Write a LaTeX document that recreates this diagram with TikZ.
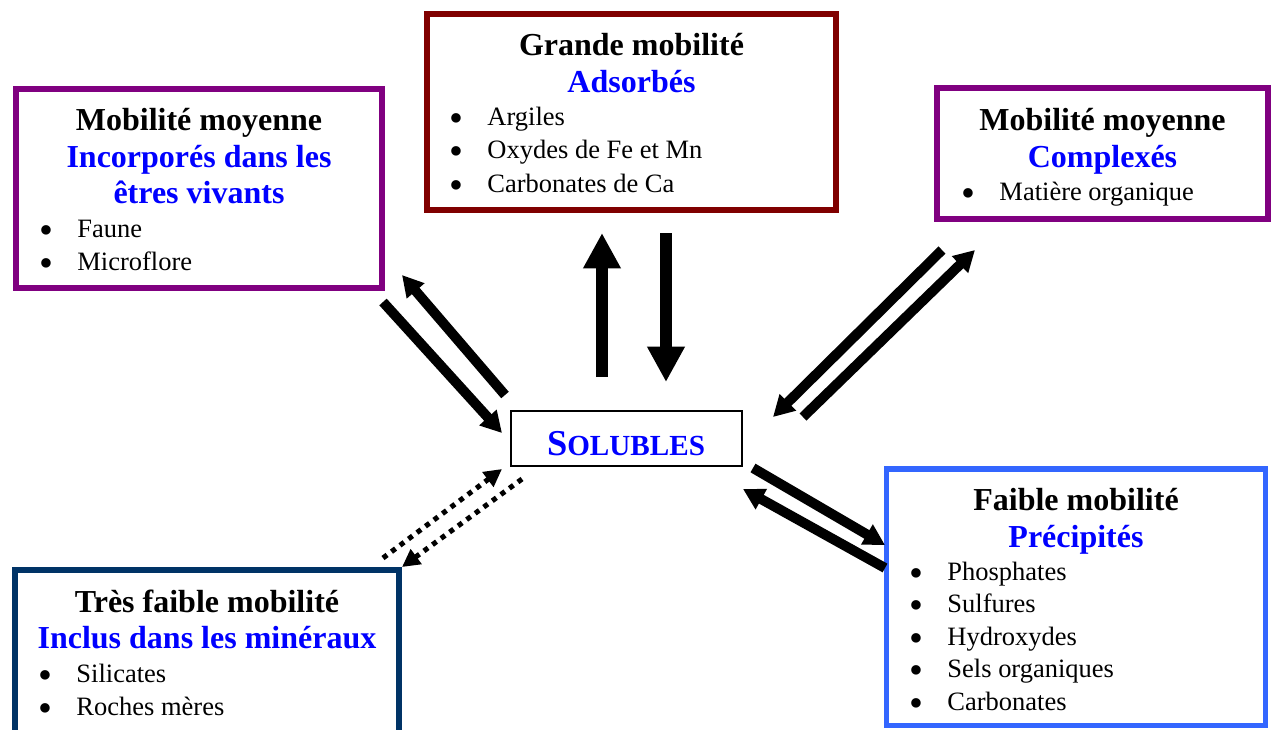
\documentclass[tikz,border=0pt]{standalone}
\usepackage{fontspec}
\setmainfont{Liberation Serif}
\usetikzlibrary{arrows.meta}
\definecolor{bordeaux}{HTML}{800000}
\definecolor{pourpre}{HTML}{800080}
\definecolor{marine}{HTML}{003366}
\definecolor{azur}{HTML}{3366FF}
\definecolor{bleutexte}{HTML}{0000FF}
\newcommand{\puce}{\makebox[17pt][l]{\raisebox{-3pt}[0pt][0pt]{\fontsize{18}{18}\selectfont\textbullet}}}
\begin{document}
\begin{tikzpicture}[x=0.453pt,y=-0.453pt,
  boite/.style={draw=#1,line width=2.5pt,inner sep=0pt},
  titre/.style={font=\bfseries\fontsize{14.5}{16}\selectfont,anchor=base,inner sep=0pt},
  classe/.style={titre,text=bleutexte},
  liste/.style={font=\fontsize{12}{14}\selectfont,anchor=base west,inner sep=0pt},
  fleche/.style={line width=4.5pt,-{Triangle[length=9.5pt,width=10pt]}},
  grosse/.style={line width=5.7pt,-{Triangle[length=16pt,width=16pt]}},
  pointille/.style={line width=2.3pt,dash pattern=on 2.3pt off 2.5pt,-{Triangle[length=8pt,width=8pt]}}]
\useasboundingbox (0,0) rectangle (1271,729);
\clip (0,0) rectangle (1271,729);
% les boites
\node[boite=pourpre,minimum width=165.8pt,minimum height=90.1pt] (vivant) at (199,188.5) {};
\node[boite=bordeaux,minimum width=185.3pt,minimum height=88.8pt] (adsorb) at (631.5,112) {};
\node[boite=pourpre,minimum width=149.9pt,minimum height=59.3pt] (complexe) at (1102.5,153.5) {};
\node[boite=black,line width=0.9pt,minimum width=104.6pt,minimum height=24.9pt] (soluble) at (626.5,438.5) {};
\node[boite=azur,minimum width=171.7pt,minimum height=116.2pt] (precip) at (1076,597.25) {};
\node[boite=marine,minimum width=174pt,minimum height=86pt] (mineral) at (207,665) {};
% incorpores
\node[titre] (vivant-t) at (199,130) {Mobilité moyenne};
\node[classe] (vivant-c1) at (199,167) {Incorporés dans les};
\node[classe] (vivant-c2) at (199,203) {êtres vivants};
\node[liste] (vivant-1) at (39.4,237) {\puce Faune};
\node[liste] (vivant-2) at (39.4,270) {\puce Microflore};
% adsorbes
\node[titre] (adsorb-t) at (631.5,55) {Grande mobilité};
\node[classe] (adsorb-c) at (631.5,92) {Adsorbés};
\node[liste] (adsorb-1) at (449.5,125) {\puce Argiles};
\node[liste] (adsorb-2) at (449.5,158) {\puce Oxydes de Fe et Mn};
\node[liste] (adsorb-3) at (449.5,192) {\puce Carbonates de Ca};
% complexes
\node[titre] (complexe-t) at (1102.5,130) {Mobilité moyenne};
\node[classe] (complexe-c) at (1102.5,167) {Complexés};
\node[liste] (complexe-1) at (961.5,200) {\puce Matière organique};
% solubles
\node[anchor=base,inner sep=0pt,text=bleutexte,font=\bfseries] (soluble-t) at (626,455)
  {\fontsize{16.5}{18}\selectfont S\fontsize{13.2}{14}\selectfont OLUBLES};
% precipites
\node[titre] (precip-t) at (1076,510) {Faible mobilité};
\node[classe] (precip-c) at (1076,547) {Précipités};
\node[liste] (precip-1) at (909.5,580) {\puce Phosphates};
\node[liste] (precip-2) at (909.5,612) {\puce Sulfures};
\node[liste] (precip-3) at (909.5,645) {\puce Hydroxydes};
\node[liste] (precip-4) at (909.5,677) {\puce Sels organiques};
\node[liste] (precip-5) at (909.5,710) {\puce Carbonates};
% mineraux
\node[titre] (mineral-t) at (207,612) {Très faible mobilité};
\node[classe] (mineral-c) at (207,648) {Inclus dans les minéraux};
\node[liste] (mineral-1) at (38.5,682) {\puce Silicates};
\node[liste] (mineral-2) at (38.5,715) {\puce Roches mères};
% bouts des fleches
\coordinate (v1) at (383,302);
\coordinate (v2) at (502,433);
\coordinate (v3) at (505,395);
\coordinate (v4) at (402,275);
\coordinate (a1) at (602,377);
\coordinate (a2) at (602,233);
\coordinate (a3) at (666,233);
\coordinate (a4) at (666,382);
\coordinate (c1) at (942,250);
\coordinate (c2) at (773,417);
\coordinate (c3) at (803,417);
\coordinate (c4) at (975,250);
\coordinate (p1) at (753,468);
\coordinate (p2) at (885,545);
\coordinate (p3) at (885,568);
\coordinate (p4) at (743,489);
\coordinate (m1) at (383,558);
\coordinate (m2) at (502,469);
\coordinate (m3) at (522,479);
\coordinate (m4) at (402,567);
% fleches
\draw[fleche] (v1) -- (v2);
\draw[fleche] (v3) -- (v4);
\draw[grosse] (a1) -- (a2);
\draw[grosse] (a3) -- (a4);
\draw[fleche] (c1) -- (c2);
\draw[fleche] (c3) -- (c4);
\draw[fleche] (p1) -- (p2);
\draw[fleche] (p3) -- (p4);
\draw[pointille] (m1) -- (m2);
\draw[pointille] (m3) -- (m4);
\end{tikzpicture}
\end{document}
